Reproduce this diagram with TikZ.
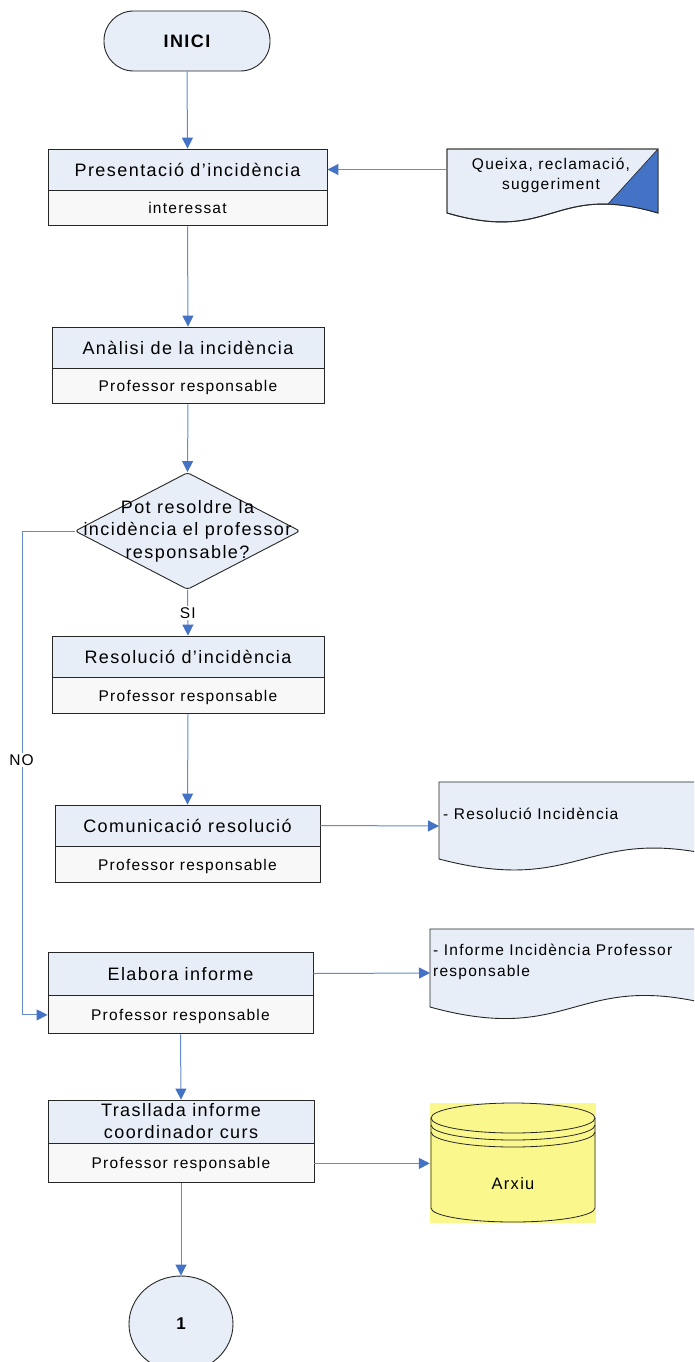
\documentclass[tikz,border=0pt]{standalone}
\usepackage{fontspec}
\setmainfont{Liberation Sans}[LetterSpace=8]
\usetikzlibrary{arrows.meta,shapes.geometric}

\definecolor{boxblue}{RGB}{232,238,247}
\definecolor{rolegray}{RGB}{248,248,248}
\definecolor{linkblue}{RGB}{100,140,205}
\definecolor{tipblue}{RGB}{68,114,196}
\definecolor{archyellow}{RGB}{250,248,140}

\tikzset{
  outline/.style={draw=black!85, line width=0.9pt},
  titlebox/.style={outline, fill=boxblue, inner sep=0pt,
    font=\fontsize{18}{22}\selectfont, text height=13pt, text depth=0pt},
  rolebox/.style={outline, fill=rolegray, inner sep=0pt, anchor=north,
    font=\fontsize{15.5}{19}\selectfont, text height=11pt, text depth=0pt},
  link/.style={draw=linkblue, line width=1pt,
    -{Triangle[length=11pt,width=11pt,color=tipblue]}},
  small/.style={font=\fontsize{15.5}{20.5}\selectfont},
  tag/.style={small, fill=white, inner sep=1.5pt},
  docshape/.style={outline, fill=boxblue},
}

\begin{document}
\begin{tikzpicture}[x=1pt,y=-1pt]
\useasboundingbox (0,0) rectangle (694,1362);
\clip (0,0) rectangle (694,1362);
\fill[white] (0,0) rectangle (694,1362);

% start terminal
\node[outline, fill=boxblue, rounded corners=29.5pt, minimum width=166pt,
      minimum height=60pt, font=\bfseries\fontsize{18}{22}\selectfont] (start) at (187,41) {INICI};

% process boxes: title row + role row
\node[titlebox, minimum width=279pt, minimum height=41pt] (pres) at (187.5,169.5) {Presentació d’incidència};
\node[rolebox, minimum width=279pt, minimum height=35pt] (presr) at (pres.south) {interessat};

\node[titlebox, minimum width=272pt, minimum height=41pt] (anal) at (188,347.5) {Anàlisi de la incidència};
\node[rolebox, minimum width=272pt, minimum height=35pt] (analr) at (anal.south) {Professor responsable};

\node[titlebox, minimum width=272pt, minimum height=41pt] (resol) at (188,656.5) {Resolució d’incidència};
\node[rolebox, minimum width=272pt, minimum height=36pt] (resolr) at (resol.south) {Professor responsable};

\node[titlebox, minimum width=265pt, minimum height=41pt] (comun) at (187.5,825.5) {Comunicació resolució};
\node[rolebox, minimum width=265pt, minimum height=36pt] (comunr) at (comun.south) {Professor responsable};

\node[titlebox, minimum width=265pt, minimum height=43pt] (elab) at (180.5,973.5) {Elabora informe};
\node[rolebox, minimum width=265pt, minimum height=38pt] (elabr) at (elab.south) {Professor responsable};

\node[titlebox, minimum width=266pt, minimum height=43pt, text height=, text depth=, align=center,
      font=\fontsize{18}{22}\selectfont] (trasl) at (181,1121.5) {Trasllada informe\\coordinador curs};
\node[rolebox, minimum width=266pt, minimum height=39pt] (traslr) at (trasl.south) {Professor responsable};

% decision
\node[outline, fill=boxblue, diamond, minimum width=225pt, minimum height=117pt,
      inner sep=0pt, rounded corners=3pt] (dec) at (187.5,531) {};
\node[font=\fontsize{18}{22.5}\selectfont, align=center, inner sep=0pt] (dectext) at (dec.center)
  {Pot resoldre la\\incidència el professor\\responsable?};

% input document with folded corner
\node[minimum width=211pt, minimum height=64pt, inner sep=0pt] (qdoc) at (552.5,181) {};
\draw[docshape] (447,149) -- (658,149) -- (658,213)
  .. controls (552.5,182) and (552.5,244) .. (447,213) -- cycle;
\begin{scope}
  \clip (447,149) -- (658,149) -- (658,213)
    .. controls (552.5,182) and (552.5,244) .. (447,213) -- cycle;
  \fill[tipblue] (658,149) -- (575,240) -- (700,240) -- cycle;
\end{scope}
\draw[outline] (447,149) -- (658,149) -- (658,213)
  .. controls (552.5,182) and (552.5,244) .. (447,213) -- cycle;
\draw[black!85, line width=0.6pt] (658,149) -- (608,204);
\node[small, align=center, inner sep=0pt] (queixa) at (551,175.5) {Queixa, reclamació,\\suggeriment};

% output documents
\draw[docshape] (439,782) -- (729,782) -- (729,859)
  .. controls (584,821) and (584,897) .. (439,859) -- cycle;
\node[small, anchor=west, inner sep=0pt] (docatext) at (443,814) {- Resolució Incidència};
\coordinate (docain) at (439,826);

\draw[docshape] (430,929) -- (720,929) -- (720,1007)
  .. controls (575,967) and (575,1047) .. (430,1007) -- cycle;
\node[small, align=left, anchor=west, inner sep=0pt] (docbtext) at (433,962)
  {- Informe Incidència Professor\\responsable};
\coordinate (docbin) at (430,973);

% archive
\node[fill=archyellow, minimum width=166pt, minimum height=120pt, inner sep=0pt] (arxiu) at (513,1163) {};
\draw[black!85, line width=0.8pt] (431,1118) -- (431,1208)
  arc[start angle=180, end angle=360, x radius=82pt, y radius=14pt] -- (595,1118);
\draw[black!85, line width=0.8pt] (513,1118) ellipse [x radius=82pt, y radius=15pt];
\draw[black!85, line width=0.8pt] (431,1125) arc[start angle=180, end angle=360, x radius=82pt, y radius=15pt];
\draw[black!85, line width=0.8pt] (431,1132) arc[start angle=180, end angle=360, x radius=82pt, y radius=15pt];
\node[small, font=\fontsize{16.5}{20}\selectfont] (arxiutext) at (513,1184) {Arxiu};

% off-page connector
\node[outline, fill=boxblue, ellipse, minimum width=104pt, minimum height=96pt, inner sep=0pt,
      font=\bfseries\fontsize{17}{20}\selectfont] (conn) at (181,1324) {1};

% connectors
\draw[link] (start.south) -- (pres.north);
\draw[link] (qdoc.west |- pres.east) -- (pres.east);
\draw[link] (presr.south) -- (anal.north);
\draw[link] (analr.south) -- (dec.north);
\draw[link] (dec.south) -- node[tag] (si) {SI} (resol.north);
\draw[link] (resolr.south) -- (comun.north);
\draw[link] (comun.east) -- (docain);
\draw[link] (dec.west) -- ++(-52,0) coordinate (nobend) |- (elabr.west);
\path (nobend) ++(-1,229) node[tag] (no) {NO};
\draw[link] (elab.east) -- (docbin);
\draw[link] (elabr.south) -- (trasl.north);
\draw[link] (traslr.east) -- (arxiu.west |- traslr.east);
\draw[link] (traslr.south) -- (conn.north);
\end{tikzpicture}
\end{document}
